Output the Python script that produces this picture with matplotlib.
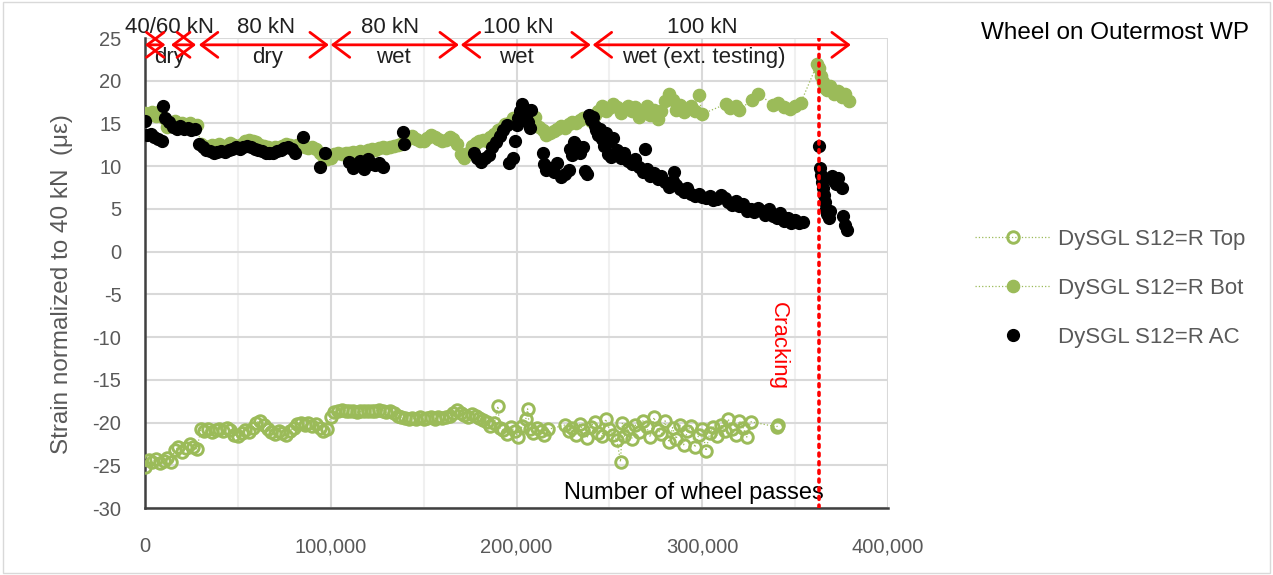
import numpy as np
import matplotlib.pyplot as plt
from matplotlib.ticker import FuncFormatter, MultipleLocator
from matplotlib.patches import Rectangle

plt.rcParams['font.family'] = ['Liberation Sans', 'DejaVu Sans']
plt.rcParams['axes.unicode_minus'] = False

GREEN = '#9BBB59'
GRAY_TXT = '#595959'

# wheel passes in thousands, strain in microstrain
top_k = [0, 2, 4, 6, 8, 10, 12, 14, 16, 18, 20, 22, 24, 26, 28,
         30, 32, 34, 36, 38, 40, 42, 44, 46, 48, 50, 52, 54, 56, 58,
         60, 62, 64, 66, 68, 70, 72, 74, 76, 78, 80, 82, 84, 86, 88,
         90, 92, 94, 96, 98, 100, 102, 104, 106, 108, 110, 112, 114, 116, 118,
         120, 122, 124, 126, 128, 130, 132, 134, 136, 138, 140, 142, 144, 146, 148,
         150, 152, 154, 156, 158, 160, 162, 164, 166, 168, 170, 172, 174, 176, 178,
         180, 182, 184, 186, 188, 190, 191, 193, 195, 197, 199, 201, 203, 205, 206,
         207, 209, 211, 213, 215, 217, 226, 228, 230, 232, 234, 236, 238, 240, 242,
         244, 246, 248, 250, 252, 254, 256, 257, 258, 260, 262, 264, 266, 268, 270,
         272, 274, 276, 278, 280, 282, 284, 286, 288, 290, 292, 294, 296, 298, 300,
         302, 304, 306, 308, 310, 312, 314, 316, 318, 320, 322, 324, 326, 340, 341]
top_val = [-25.2, -24.4, -24.6, -24.3, -24.7, -24.5, -24.2, -24.6, -23.2, -22.9, -23.4, -23.0, -22.5, -22.9, -23.1,
           -20.8, -21.0, -20.7, -21.1, -20.9, -20.8, -21.0, -20.6, -20.9, -21.4, -21.6, -21.2, -20.9, -21.1, -20.6,
           -20.0, -19.8, -20.3, -20.7, -21.1, -21.3, -21.0, -21.2, -21.4, -21.0, -20.6, -20.2, -20.0, -20.3, -20.1,
           -20.4, -20.2, -20.6, -21.0, -20.8, -19.3, -18.8, -18.6, -18.5, -18.6, -18.7, -18.6, -18.8, -18.7, -18.6,
           -18.7, -18.6, -18.7, -18.5, -18.6, -18.8, -18.7, -18.9, -19.2, -19.4, -19.5, -19.6, -19.5, -19.6, -19.4,
           -19.6, -19.5, -19.4, -19.6, -19.3, -19.5, -19.3, -19.2, -18.9, -18.5, -18.9, -19.1, -19.3, -19.0, -19.2,
           -19.5, -19.7, -19.9, -20.4, -20.1, -18.1, -20.6, -20.9, -21.3, -20.5, -21.0, -21.7, -20.4, -19.6, -18.4,
           -20.8, -21.2, -20.6, -21.0, -21.5, -20.8, -20.3, -21.0, -20.6, -21.5, -20.2, -20.9, -21.8, -20.5, -19.9,
           -21.2, -21.6, -19.6, -20.8, -21.4, -22.0, -24.6, -20.1, -21.6, -20.7, -21.9, -20.3, -21.1, -19.8, -20.5,
           -21.7, -19.4, -20.9, -21.3, -19.8, -22.3, -20.6, -21.9, -20.3, -22.6, -21.0, -20.4, -22.9, -21.5, -20.7,
           -23.3, -21.2, -20.5, -21.6, -20.3, -21.0, -19.6, -20.8, -21.5, -19.8, -20.6, -21.7, -19.9, -20.5, -20.3]

bot_k = [0, 2, 4, 6, 8, 10, 12, 14, 16, 18, 20, 22, 24, 26, 28,
         30, 32, 34, 36, 38, 40, 42, 44, 46, 48, 50, 52, 54, 56, 58,
         60, 62, 64, 66, 68, 70, 72, 74, 76, 78, 80, 82, 84, 86, 88,
         90, 92, 94, 96, 98, 100, 102, 104, 106, 108, 110, 112, 114, 116, 118,
         120, 122, 124, 126, 128, 130, 132, 134, 136, 138, 140, 142, 144, 146, 148,
         150, 152, 154, 156, 158, 160, 162, 164, 166, 168, 170, 172, 174, 176, 178,
         180, 182, 184, 186, 188, 190, 192, 194, 196, 198, 200, 202, 204, 206, 208,
         210, 212, 214, 216, 218, 220, 222, 224, 226, 228, 230, 232, 234, 236, 238,
         240, 242, 244, 246, 248, 250, 252, 254, 256, 258, 260, 262, 264, 266, 268,
         270, 272, 274, 276, 278, 280, 282, 284, 286, 288, 290, 294, 296, 298, 300,
         313, 315, 318, 320, 327, 330, 338, 341, 344, 347, 350, 353,
         362, 363, 364, 365, 366, 367, 369, 371, 373, 375, 377, 379]
bot_val = [16.2, 16.0, 16.3, 15.9, 16.4, 15.6, 14.6, 14.9, 15.3, 14.8, 15.0, 14.7, 15.1, 14.6, 14.8,
           12.6, 12.4, 12.2, 12.5, 12.3, 12.6, 12.4, 12.2, 12.7, 12.5, 12.3, 12.6, 12.9, 13.1, 12.9,
           12.8, 12.5, 12.4, 12.2, 12.0, 12.2, 12.1, 12.4, 12.6, 12.5, 12.3, 12.5, 12.4, 12.2, 12.1,
           12.3, 12.0, 11.6, 11.2, 10.8, 11.0, 11.4, 11.5, 11.4, 11.6, 11.5, 11.7, 11.6, 11.8, 11.7,
           11.9, 12.0, 11.9, 12.1, 12.2, 12.1, 12.3, 12.4, 12.5, 12.6, 12.8, 13.3, 13.5, 13.2, 13.0,
           12.9, 13.3, 13.6, 13.4, 13.2, 12.9, 13.1, 13.4, 13.2, 12.6, 11.4, 10.9, 11.6, 12.4, 12.7,
           12.9, 13.1, 13.0, 13.4, 13.8, 14.2, 14.5, 14.9, 15.1, 15.6, 15.2, 15.8, 16.1, 15.4, 15.0,
           15.7, 14.6, 14.2, 13.7, 13.9, 14.1, 14.4, 14.7, 14.5, 14.9, 15.2, 15.0, 15.4, 15.6, 15.8,
           15.3, 16.0, 16.4, 17.1, 16.5, 16.8, 17.3, 16.9, 16.2, 16.7, 17.0, 16.5, 16.9, 15.8, 16.3,
           17.1, 16.0, 16.6, 15.5, 16.4, 17.6, 18.4, 17.8, 16.6, 17.2, 16.3, 17.0, 16.4, 18.3, 16.1,
           17.3, 16.8, 17.0, 16.6, 17.8, 18.5, 17.2, 17.4, 16.9, 16.7, 17.0, 17.4,
           22.0, 21.5, 20.6, 19.8, 19.2, 18.9, 19.4, 18.5, 18.8, 18.1, 18.4, 17.6]

ac_k = [0, 1, 3, 5, 7, 9, 9.5, 11, 13, 15, 17, 19, 21, 23, 25, 27,
        29, 31, 33, 35, 37, 39, 41, 43, 45, 47, 49, 51, 53, 55, 57, 59,
        61, 63, 65, 67, 69, 71, 73, 75, 77, 79, 81, 85, 94, 97,
        110, 112, 114, 116, 118, 120, 122, 124, 126, 128, 139, 139.5,
        177, 179, 181, 183, 185, 187, 189, 191, 193, 195, 196, 198, 199, 200,
        201, 202, 203, 204, 205, 206, 207, 208,
        214, 215, 216, 218, 220, 222, 224, 226, 228, 229, 230, 231, 232, 234, 236, 237, 238,
        239, 240, 241, 242, 243, 244, 245, 246, 247, 248, 249, 250, 251, 252, 254, 256, 258,
        260, 262, 264, 266, 268, 269, 270, 272, 274, 276, 278, 280, 282, 284, 285, 286, 288,
        290, 292, 294, 296, 298, 300, 302, 304, 306, 308, 310, 312, 314, 316, 318, 320, 322,
        324, 326, 328, 330, 332, 334, 336, 338, 340, 342, 344, 346, 348, 350, 352, 354,
        363, 363.5, 364, 364.5, 365, 365.5, 366, 366.5, 367, 368, 369,
        370, 371, 372, 373, 375, 376, 377, 378]
ac_val = [15.3, 13.6, 13.8, 13.4, 13.2, 13.0, 17.1, 15.6, 15.2, 14.6, 14.4, 14.7, 14.3, 14.5, 14.2, 14.3,
          12.6, 12.2, 11.9, 11.8, 11.6, 11.7, 11.8, 11.7, 11.9, 12.0, 12.2, 12.0, 12.3, 12.4, 12.2, 12.0,
          11.9, 11.8, 11.6, 11.5, 11.6, 11.8, 11.9, 12.1, 12.3, 12.0, 11.6, 13.4, 9.9, 11.5,
          10.5, 9.8, 10.2, 10.6, 9.7, 10.8, 10.3, 10.1, 10.4, 9.9, 14.0, 12.6,
          11.6, 11.0, 10.5, 10.9, 11.3, 12.3, 12.8, 13.5, 14.2, 14.8, 10.4, 10.9, 12.9, 14.8,
          15.6, 16.5, 17.3, 16.8, 15.9, 15.2, 14.5, 16.6,
          11.6, 10.2, 9.5, 9.8, 9.3, 10.4, 8.7, 9.1, 9.6, 12.0, 11.3, 12.8, 12.5, 11.6, 12.2, 9.4, 9.1,
          16.0, 15.4, 15.8, 14.7, 14.2, 13.6, 14.4, 13.2, 12.4, 13.9, 11.4, 12.8, 11.1, 13.3, 11.9, 10.9, 11.5,
          10.6, 10.2, 10.8, 9.9, 9.3, 12.0, 9.7, 8.9, 9.2, 8.5, 8.9, 8.1, 7.6, 8.3, 9.3, 7.8, 7.3,
          7.0, 7.4, 6.8, 6.5, 6.7, 6.4, 6.3, 6.5, 6.0, 6.2, 6.6, 6.3, 5.8, 5.5, 5.9, 5.3, 5.6,
          4.8, 5.0, 4.6, 5.1, 4.7, 4.3, 5.0, 4.2, 3.9, 4.5, 3.6, 3.9, 3.4, 3.7, 3.3, 3.5,
          12.4, 9.8, 9.0, 8.2, 7.4, 6.6, 5.8, 5.0, 4.4, 3.9, 4.8,
          8.8, 8.3, 7.9, 8.6, 7.5, 4.2, 3.1, 2.5]

# load phases: (start, end) in thousands, upper and lower label
phase_span = [(0, 11), (14, 27.5), (29, 99), (100, 169), (170, 240), (241, 380)]
phase_load = ['40/60 kN', '', '80 kN', '80 kN', '100 kN', '100 kN']
phase_cond = ['dry', '', 'dry', 'wet', 'wet', 'wet (ext. testing)']
phase_load_x = [13, None, 65, 132, 201, 300]
phase_cond_x = [13, None, 66, 134, 200, 301]
crack_k = 363

fig = plt.figure(figsize=(12.73, 5.75), dpi=100)
ax = fig.add_axes([145 / 1273, 1 - 508 / 575, (888 - 145) / 1273, (508 - 38) / 575])

ax.plot(np.array(top_k) * 1000, top_val, ls=':', lw=0.9, color=GREEN, marker='o',
        ms=8.3, mfc='none', mec=GREEN, mew=2.1, label='DySGL S12=R Top', zorder=3)
ax.plot(np.array(bot_k) * 1000, bot_val, ls=':', lw=0.9, color=GREEN, marker='o',
        ms=8.8, mfc=GREEN, mec=GREEN, label='DySGL S12=R Bot', zorder=4)
ax.plot(np.array(ac_k) * 1000, ac_val, ls='none', marker='o', ms=8.5, color='black',
        label='DySGL S12=R AC', zorder=5)

ax.set_xlim(0, 400000)
ax.set_ylim(-30, 25)
ax.yaxis.set_major_locator(MultipleLocator(5))
ax.xaxis.set_major_locator(MultipleLocator(100000))
ax.xaxis.set_minor_locator(MultipleLocator(50000))
ax.xaxis.set_major_formatter(FuncFormatter(lambda v, p: f'{int(v):,}'))
ax.grid(True, which='major', color='#D9D9D9', lw=1.5, zorder=0)
ax.grid(True, which='minor', axis='x', color='#F0F0F0', lw=1.5, zorder=0)
ax.set_axisbelow(True)
for s in ['top', 'right']:
    ax.spines[s].set_visible(False)
ax.spines['left'].set_color('#404040')
ax.spines['bottom'].set_color('#404040')
ax.spines['left'].set_linewidth(1.8)
ax.spines['bottom'].set_linewidth(1.8)
ax.tick_params(axis='both', which='both', length=0, labelsize=14.5, labelcolor=GRAY_TXT)
ax.tick_params(axis='x', pad=21)
ax.tick_params(axis='y', pad=17)

# cracking line
ax.axvline(crack_k * 1000, color='red', lw=2.6, ls=(0, (0.8, 1.6)), dash_capstyle='round', zorder=6)
ax.text(341000, -11.0, 'Cracking', color='red', rotation=270, ha='center', va='center', fontsize=16)

# load phase arrows and labels
for i, (a, b) in enumerate(phase_span):
    ax.annotate('', xy=(b * 1000, 24.2), xytext=(a * 1000, 24.2), annotation_clip=False,
                arrowprops=dict(arrowstyle='<->,head_length=0.6,head_width=0.45', color='red',
                                lw=2, shrinkA=0, shrinkB=0, mutation_scale=20), zorder=7)
    if phase_load[i]:
        ax.text(phase_load_x[i] * 1000, 26.2, phase_load[i], ha='center', va='center', fontsize=16,
                color='#202020', clip_on=False)
        ax.text(phase_cond_x[i] * 1000, 22.7, phase_cond[i], ha='center', va='center', fontsize=16,
                color='#202020', clip_on=False)

ax.text(295500, -28.2, 'Number of wheel passes', ha='center', va='center', fontsize=17, color='black')

fig.text(62 / 1273, 1 - 284 / 575, 'Strain normalized to 40 kN  (\u03bc\u03b5)', rotation=90,
         ha='center', va='center', fontsize=17.5, color=GRAY_TXT)
fig.text(1115 / 1273, 1 - 33 / 575, 'Wheel on Outermost WP', ha='center', va='center', fontsize=17.5,
         color='black')

leg = fig.legend(loc='upper left', bbox_to_anchor=(975 / 1273, 1 - 229 / 575), frameon=False,
                 fontsize=16, handlelength=3.4, handletextpad=0.35, labelspacing=1.25, borderpad=0,
                 borderaxespad=0)
for t in leg.get_texts():
    t.set_color(GRAY_TXT)

fig.patches.append(Rectangle((0.002, 0.004), 0.996, 0.992, transform=fig.transFigure,
                             fill=False, edgecolor='#D9D9D9', lw=1))

fig.savefig('out.png', dpi=100)
